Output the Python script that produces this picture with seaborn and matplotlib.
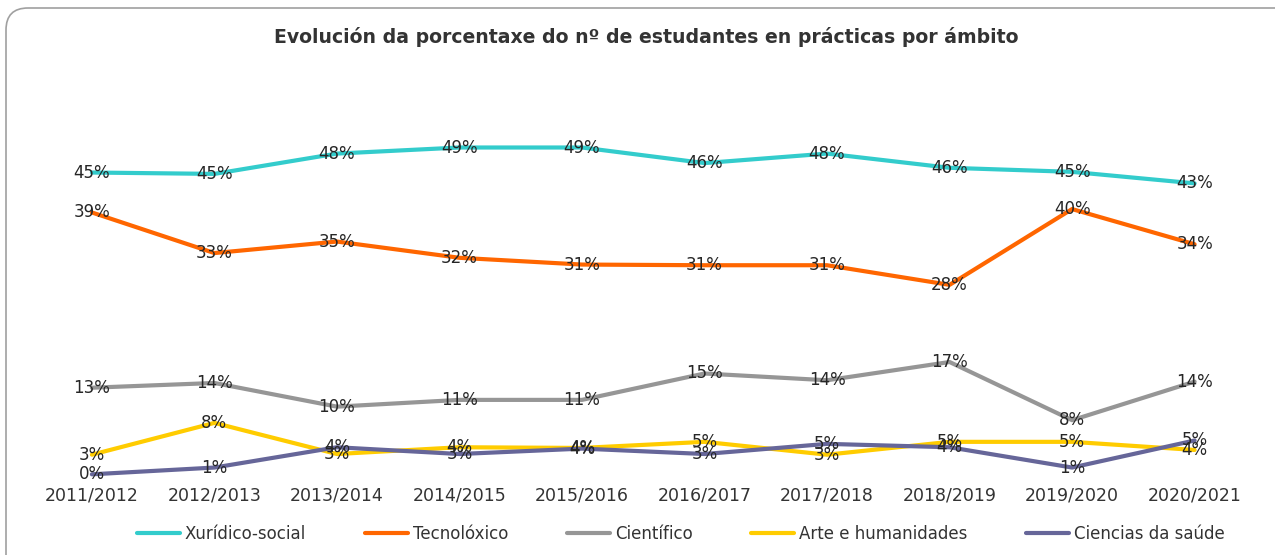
import matplotlib.pyplot as plt
import pandas as pd
import seaborn as sns
from matplotlib.patches import FancyBboxPatch

sns.set_theme(style="white")
plt.rcParams['font.family'] = ['DejaVu Sans']

years = ['2011/2012', '2012/2013', '2013/2014', '2014/2015', '2015/2016',
         '2016/2017', '2017/2018', '2018/2019', '2019/2020', '2020/2021']
xuridico = [45.0, 44.8, 47.8, 48.7, 48.7, 46.4, 47.8, 45.7, 45.1, 43.4]
tecnoloxico = [39.1, 33.1, 34.8, 32.4, 31.4, 31.3, 31.3, 28.4, 39.6, 34.4]
cientifico = [13.2, 13.9, 10.4, 11.4, 11.4, 15.3, 14.3, 17.0, 8.4, 14.1]
arte = [3.3, 8.0, 3.4, 4.4, 4.3, 5.2, 3.3, 5.2, 5.2, 4.0]
ciencias = [0.4, 1.4, 4.4, 3.4, 4.2, 3.4, 4.9, 4.4, 1.4, 5.4]

series = {
    'Xurídico-social': xuridico,
    'Tecnolóxico': tecnoloxico,
    'Científico': cientifico,
    'Arte e humanidades': arte,
    'Ciencias da saúde': ciencias,
}
colors = ['#33CCCC', '#FF6600', '#969696', '#FFCC00', '#666699']

df = pd.DataFrame([(name, i, v) for name, vals in series.items()
                   for i, v in enumerate(vals)],
                  columns=['ambito', 'x', 'pct'])

fig = plt.figure(figsize=(12.75, 5.55), dpi=100)
ax = fig.add_axes([0.024, 0.1405, 0.961, 0.7315])

sns.lineplot(data=df, x='x', y='pct', hue='ambito', palette=colors,
             linewidth=3.0, ax=ax, legend=True)

for _, row in df.iterrows():
    ax.text(row['x'], row['pct'], f"{row['pct']:.0f}%", ha='center', va='center',
            fontsize=12, color='#262626')

ax.set_xlim(-0.5, 9.5)
ax.set_ylim(0, 60)
ax.set_xticks(range(len(years)))
ax.set_xticklabels(years, fontsize=12.5, color='#333333')
ax.tick_params(axis='x', length=0, pad=7)
ax.set_yticks([])
ax.set_xlabel('')
ax.set_ylabel('')
for s in ax.spines.values():
    s.set_visible(False)
ax.patch.set_alpha(0)

handles, labels = ax.get_legend_handles_labels()
ax.legend_.remove()
fig.legend(handles, labels, loc='center', bbox_to_anchor=(0.534, 0.038), ncol=5,
           frameon=False, fontsize=12, handlelength=2.6, handletextpad=0.3,
           columnspacing=3.5, labelcolor='#333333')

fig.text(0.507, 0.933, 'Evolución da porcentaxe do nº de estudantes en prácticas por ámbito',
         ha='center', va='center', fontsize=13.6, fontweight='bold', color='#333333')

# rounded chart border
border = FancyBboxPatch((6, -30), 1320, 577, boxstyle='round,pad=0,rounding_size=22',
                        transform=None, fill=False, edgecolor='#a0a0a0', linewidth=1.2)
fig.patches.append(border)

fig.savefig('out.png', dpi=100)
